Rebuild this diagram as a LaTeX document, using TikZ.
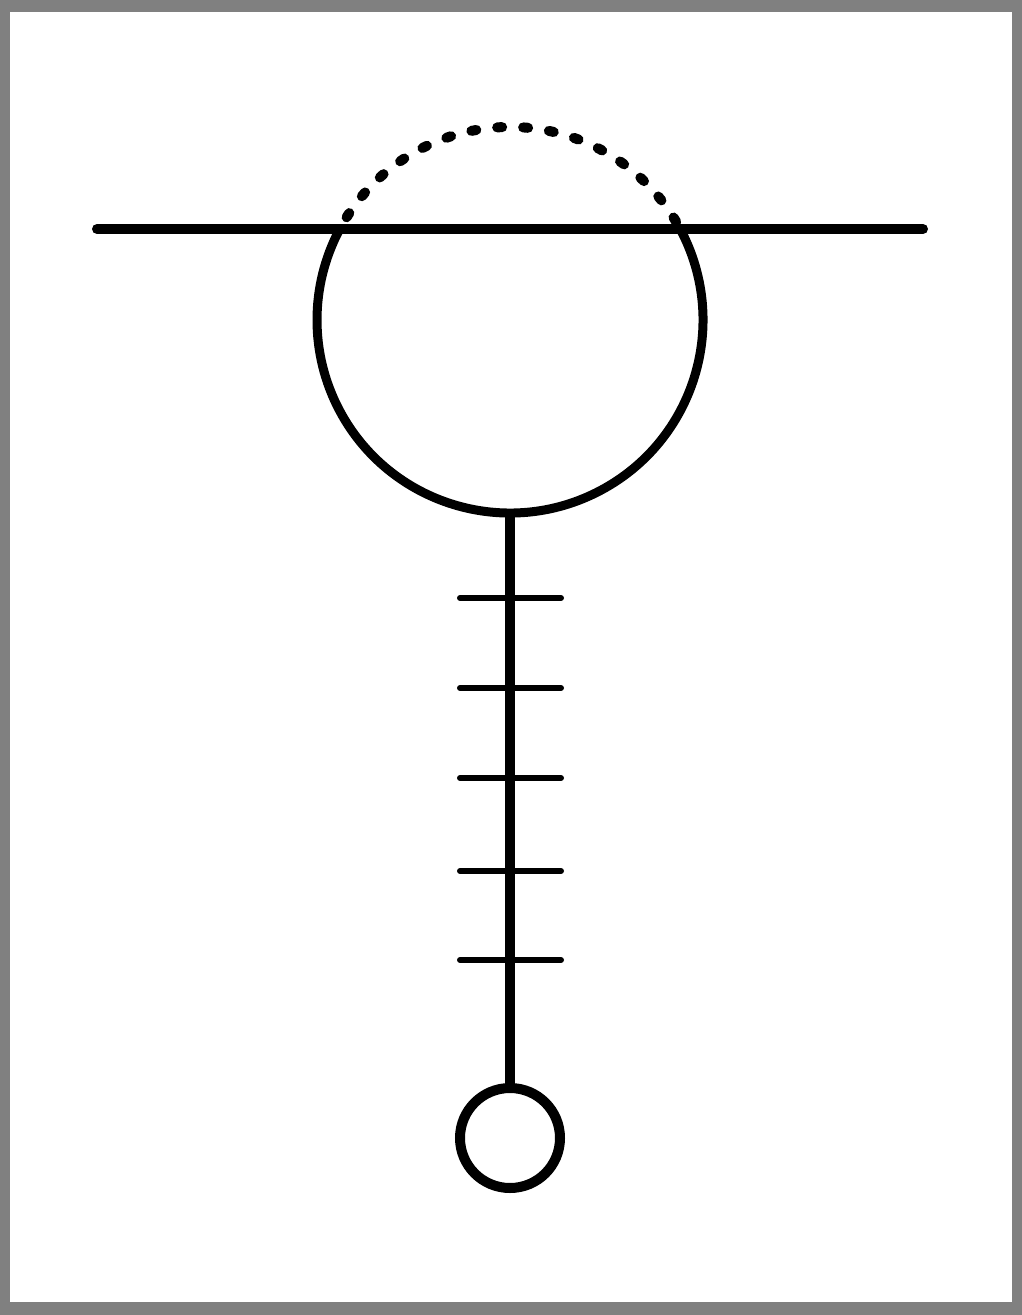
\documentclass[tikz,border=0pt]{standalone}
\begin{document}
\begin{tikzpicture}[x=1pt,y=-1pt,
  heavy/.style={line width=10pt,line cap=round},
  tick/.style={line width=6pt,line cap=round},
  dotarc/.style={line width=10pt,line cap=round,dash pattern=on 5pt off 21pt,dash phase=-14pt},
  bob/.style={circle,draw,line width=10pt,minimum size=100pt,inner sep=0pt,outer sep=0pt}]
\useasboundingbox (0,0) rectangle (1022,1315);
\fill[black!50] (0,0) rectangle (1022,1315);
\fill[white] (10,12) rectangle (1012,1302);
% main circle centre
\coordinate (c) at (510,320);
\coordinate (hl) at (97,229);
\coordinate (hr) at (923,229);
\coordinate (bot) at (510,513);
\node[bob] (small) at (510,1138) {};
% solid lower part of big circle (y axis points down, so angles are mirrored)
\draw[line width=9pt] ([shift={(332:193)}]c) arc[start angle=332,end angle=568,radius=193];
% dotted upper part
\draw[dotarc] ([shift={(208:193)}]c) arc[start angle=208,end angle=332,radius=193];
% horizontal line
\draw[heavy] (hl) -- (hr);
% stem
\draw[line width=10pt] (bot) -- (small.north);
% ticks
\foreach \y in {598,688,778,871,960}{
  \draw[tick] (460,\y) -- (561,\y);
}
\end{tikzpicture}
\end{document}
